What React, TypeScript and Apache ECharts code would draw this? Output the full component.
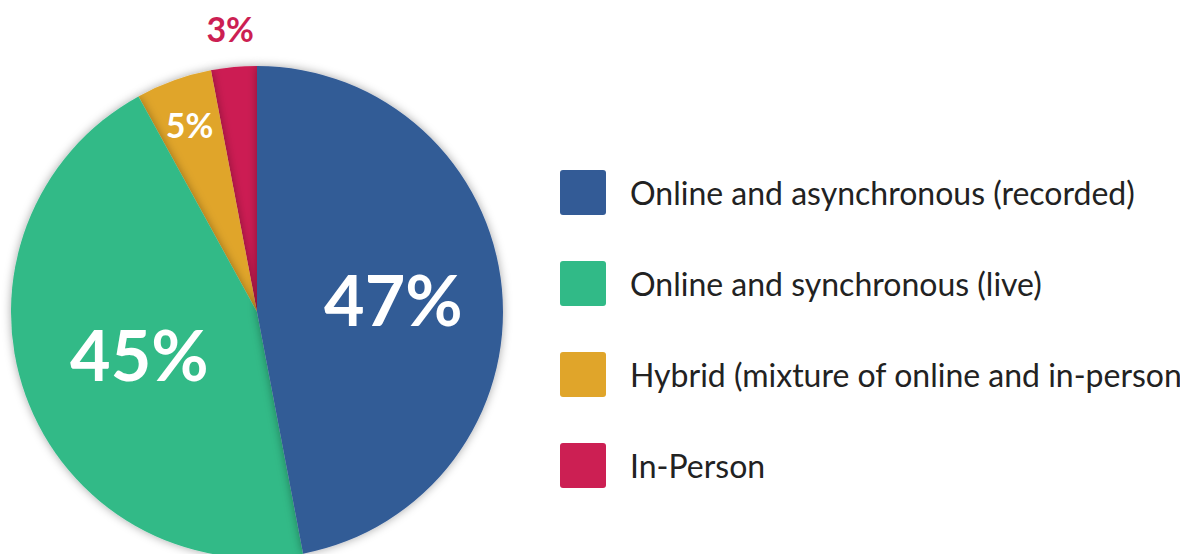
import React, { useEffect, useRef } from "react";
import * as echarts from "echarts";

const categories = [
  "Online and asynchronous (recorded)",
  "Online and synchronous (live)",
  "Hybrid (mixture of online and in-person)",
  "In-Person",
];
const shares = [47, 45, 5, 3];
const colors = ["#335B96", "#31BA87", "#E0A52A", "#CC1F53"];

const CENTER = [257, 312];
const RADIUS = 246;

// reversed drawing order so that each slice's shadow falls on its clockwise-previous neighbour
const order = [3, 2, 1, 0];

function mainData() {
  return order.map((i) => ({
    name: categories[i],
    value: shares[i],
    itemStyle: { color: colors[i] },
  }));
}

function labelSeries(
  idx: number,
  r0: number,
  r1: number,
  color: string,
  fontSize: number
) {
  return {
    type: "pie",
    center: CENTER,
    radius: [r0, r1],
    startAngle: 90,
    clockwise: false,
    silent: true,
    avoidLabelOverlap: false,
    emphasis: { disabled: true },
    labelLine: { show: false },
    data: order.map((i) => ({
      name: categories[i],
      value: shares[i],
      itemStyle: { color: "rgba(0,0,0,0)" },
      label: {
        show: i === idx,
        position: "inside",
        formatter: "{c}%",
        color,
        fontFamily: "Lato",
        fontWeight: "bold",
        fontSize,
      },
    })),
  };
}

export default function App() {
  const ref = useRef<HTMLDivElement>(null);
  useEffect(() => {
    if (!ref.current) return;
    const chart = echarts.init(ref.current, null, { renderer: "svg" });
    chart.setOption({
      animation: false,
      backgroundColor: "#ffffff",
      legend: {
        orient: "vertical",
        left: 555,
        top: 165,
        itemWidth: 46,
        itemHeight: 45,
        itemGap: 46,
        icon: "path://M3,0H43A3,3,0,0,1,46,3V42A3,3,0,0,1,43,45H3A3,3,0,0,1,0,42V3A3,3,0,0,1,3,0Z",
        data: categories,
        selectedMode: false,
        itemStyle: { shadowBlur: 0, shadowColor: "rgba(0,0,0,0)" },
        textStyle: {
          fontFamily: "Lato",
          fontSize: 32,
          color: "#222222",
          padding: [0, 0, 0, 19],
        },
      },
      series: [
        {
          type: "pie",
          center: CENTER,
          radius: [0, RADIUS],
          startAngle: 90,
          clockwise: false,
          silent: true,
          emphasis: { disabled: true },
          label: { show: false },
          labelLine: { show: false },
          itemStyle: {
            shadowBlur: 10,
            shadowColor: "rgba(0,0,0,0.35)",
          },
          data: mainData(),
        },
        labelSeries(0, 0, 268, "#ffffff", 70),
        labelSeries(1, 0, 244, "#ffffff", 70),
        labelSeries(2, 150, 242, "#ffffff", 34),
        labelSeries(3, 240, 324, "#CC1F53", 34),
      ],
    });
    return () => chart.dispose();
  }, []);
  return (
    <div
      ref={ref}
      style={{ position: "fixed", left: 0, top: 0, width: 1180, height: 554 }}
    />
  );
}
